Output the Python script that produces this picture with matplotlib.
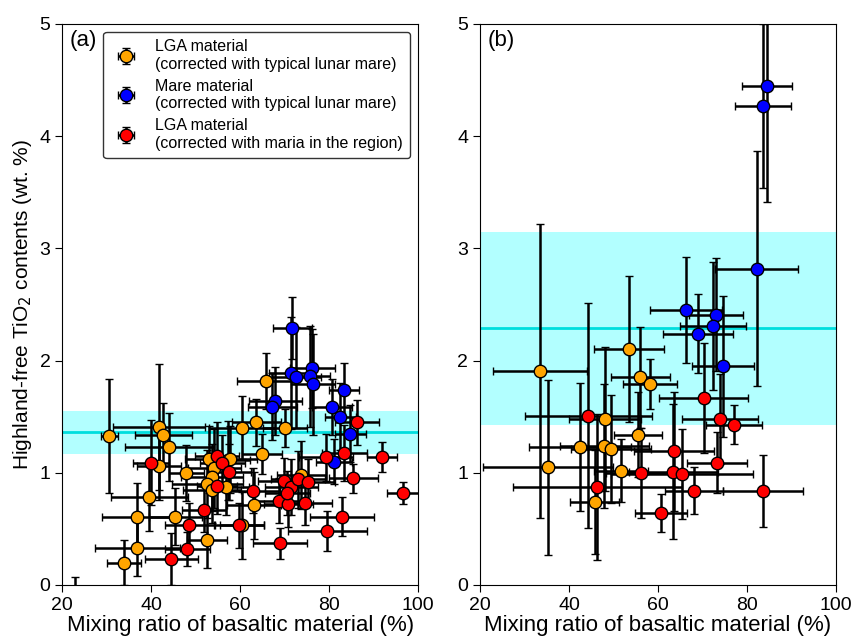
import numpy as np
import matplotlib.pyplot as plt

plt.rcParams['font.family'] = ['Liberation Sans', 'DejaVu Sans']

# --- panel (a): LGA material, typical lunar mare correction ---
a_lga_x = [30.6, 41.8, 42.7, 44.0, 41.8, 47.9, 39.6, 36.9, 45.4, 36.9, 33.9, 52.6, 53.0, 54.2, 53.7,
           52.6, 56.9, 53.7, 57.3, 57.8, 60.4, 65.8, 63.6, 70.1, 64.9, 73.7, 63.1, 60.4, 22.9]
a_lga_y = [1.33, 1.41, 1.34, 1.23, 1.06, 1.00, 0.78, 0.61, 0.61, 0.33, 0.20, 0.40, 1.12, 1.04, 0.96,
           0.90, 0.87, 0.85, 1.11, 1.12, 1.40, 1.82, 1.45, 1.40, 1.17, 0.98, 0.71, 0.53, -0.12]
a_lga_xerr = [1.9, 10.3, 6.4, 10.0, 5.0, 4.0, 8.6, 7.9, 6.0, 9.5, 3.8, 4.5, 5.5, 6.0, 7.0,
              8.0, 5.0, 6.5, 5.0, 6.0, 7.5, 6.5, 5.5, 5.0, 4.5, 5.5, 6.0, 5.0, 5.0]
a_lga_yerr = [0.51, 0.56, 0.28, 0.30, 0.30, 0.25, 0.30, 0.30, 0.25, 0.25, 0.20, 0.25, 0.30, 0.35, 0.30,
              0.30, 0.25, 0.30, 0.35, 0.30, 0.28, 0.25, 0.21, 0.17, 0.18, 0.30, 0.30, 0.30, 0.19]

# --- panel (a): mare material ---
a_mare_x = [71.7, 71.5, 72.6, 76.2, 75.7, 76.4, 67.9, 67.2, 83.4, 80.7, 82.5, 84.7, 81.1]
a_mare_y = [2.29, 1.89, 1.85, 1.93, 1.86, 1.79, 1.64, 1.59, 1.74, 1.59, 1.50, 1.35, 1.10]
a_mare_xerr = [4.4, 5.0, 5.5, 5.0, 4.5, 5.0, 6.0, 5.5, 3.4, 4.5, 3.5, 3.5, 4.0]
a_mare_yerr = [0.28, 0.50, 0.45, 0.35, 0.45, 0.45, 0.30, 0.30, 0.24, 0.25, 0.30, 0.25, 0.20]

# --- panel (a): LGA material, regional maria correction ---
a_reg_x = [40.0, 54.8, 56.0, 57.5, 54.8, 51.9, 48.5, 48.1, 44.5, 59.8, 62.9, 69.9, 71.5, 73.0,
           75.3, 68.8, 70.8, 70.6, 74.6, 79.3, 83.4, 86.3, 91.9, 85.4, 96.6, 82.9, 79.6, 69.0]
a_reg_y = [1.09, 1.15, 1.09, 1.01, 0.88, 0.67, 0.53, 0.32, 0.23, 0.53, 0.84, 0.93, 0.87, 0.94,
           0.92, 0.75, 0.72, 0.82, 0.73, 1.14, 1.18, 1.45, 1.14, 0.95, 0.82, 0.61, 0.48, 0.37]
a_reg_xerr = [4.0, 5.0, 5.0, 5.0, 4.5, 5.0, 5.5, 5.0, 6.0, 5.5, 6.0, 6.0, 6.0, 6.0,
              6.0, 5.5, 5.5, 5.0, 6.0, 6.0, 5.0, 5.0, 3.4, 5.5, 3.5, 7.1, 8.9, 6.1]
a_reg_yerr = [0.38, 0.30, 0.25, 0.25, 0.25, 0.20, 0.20, 0.15, 0.23, 0.20, 0.20, 0.20, 0.25, 0.25,
              0.20, 0.20, 0.20, 0.20, 0.20, 0.21, 0.25, 0.20, 0.13, 0.13, 0.10, 0.17, 0.18, 0.14]

# --- panel (b) ---
b_lga_x = [33.5, 35.3, 42.5, 45.8, 48.1, 47.9, 49.4, 51.7, 53.5, 55.5, 56.0, 58.2]
b_lga_y = [1.91, 1.05, 1.23, 0.74, 1.48, 1.24, 1.21, 1.02, 2.10, 1.34, 1.85, 1.79]
b_lga_xerr = [10.5, 14.6, 11.5, 5.5, 8.0, 10.0, 9.0, 6.0, 7.8, 5.3, 6.6, 6.0]
b_lga_yerr = [1.31, 0.78, 0.57, 0.46, 0.64, 0.55, 0.48, 0.28, 0.65, 0.38, 0.45, 0.22]

b_mare_x = [84.5, 83.6, 82.2, 66.3, 73.0, 72.4, 69.0, 74.6]
b_mare_y = [4.45, 4.27, 2.82, 2.45, 2.41, 2.31, 2.24, 1.95]
b_mare_xerr = [5.6, 6.2, 9.3, 8.0, 6.0, 7.4, 7.9, 7.0]
b_mare_yerr = [1.04, 0.73, 1.05, 0.47, 0.50, 0.57, 0.35, 0.63]

b_reg_x = [44.3, 46.3, 56.2, 60.7, 63.6, 63.4, 65.4, 68.1, 70.3, 73.9, 77.1, 73.3, 83.6]
b_reg_y = [1.51, 0.87, 1.00, 0.64, 1.19, 1.01, 0.99, 0.84, 1.67, 1.48, 1.43, 1.09, 0.84]
b_reg_xerr = [14.3, 19.0, 8.0, 5.9, 9.0, 10.0, 16.0, 6.5, 10.0, 8.5, 6.3, 6.8, 9.0]
b_reg_yerr = [1.00, 0.65, 0.40, 0.17, 0.53, 0.60, 0.40, 0.21, 0.49, 0.40, 0.17, 0.27, 0.32]

# mean +/- std of mare TiO2 for each panel
a_mean, a_std = 1.36, 0.19
b_mean, b_std = 2.29, 0.86

labels = ['LGA material\n(corrected with typical lunar mare)',
          'Mare material\n(corrected with typical lunar mare)',
          'LGA material\n(corrected with maria in the region)']
colors = ['orange', 'blue', 'red']

fig, axes = plt.subplots(1, 2, figsize=(8.53, 6.4), dpi=100)
fig.subplots_adjust(left=0.073, right=0.980, bottom=0.086, top=0.9625, wspace=0.174)

panels = [
    ('(a)', a_mean, a_std, [(a_lga_x, a_lga_y, a_lga_xerr, a_lga_yerr),
                            (a_mare_x, a_mare_y, a_mare_xerr, a_mare_yerr),
                            (a_reg_x, a_reg_y, a_reg_xerr, a_reg_yerr)]),
    ('(b)', b_mean, b_std, [(b_lga_x, b_lga_y, b_lga_xerr, b_lga_yerr),
                            (b_mare_x, b_mare_y, b_mare_xerr, b_mare_yerr),
                            (b_reg_x, b_reg_y, b_reg_xerr, b_reg_yerr)]),
]

for ax, (tag, mean, std, groups) in zip(axes, panels):
    ax.axhspan(mean - std, mean + std, color='cyan', alpha=0.3, lw=0, zorder=0)
    ax.axhline(mean, color='#00dede', lw=2, zorder=0.5)
    for (x, y, xe, ye), c, lab in zip(groups, colors, labels):
        ax.errorbar(x, y, xerr=xe, yerr=ye, fmt='o', ms=9, mfc=c, mec='black', mew=1,
                    ecolor='black', elinewidth=1.8, capsize=3, capthick=1.8, label=lab)
    ax.set_xlim(20, 100)
    ax.set_ylim(0, 5)
    ax.set_xticks([20, 40, 60, 80, 100])
    ax.set_yticks([0, 1, 2, 3, 4, 5])
    ax.tick_params(labelsize=14, length=5)
    ax.set_xlabel('Mixing ratio of basaltic material (%)', fontsize=16, labelpad=1)
    ax.text(0.02, 0.99, tag, transform=ax.transAxes, fontsize=16, va='top', ha='left')

axes[0].set_ylabel('Highland-free TiO$_2$ contents (wt. %)', fontsize=15, labelpad=4)
axes[0].legend(loc='upper right', fontsize=11.5, frameon=True, edgecolor='black',
               handletextpad=0.8, labelspacing=0.45, borderpad=0.45)

plt.savefig('out.png', dpi=100)
